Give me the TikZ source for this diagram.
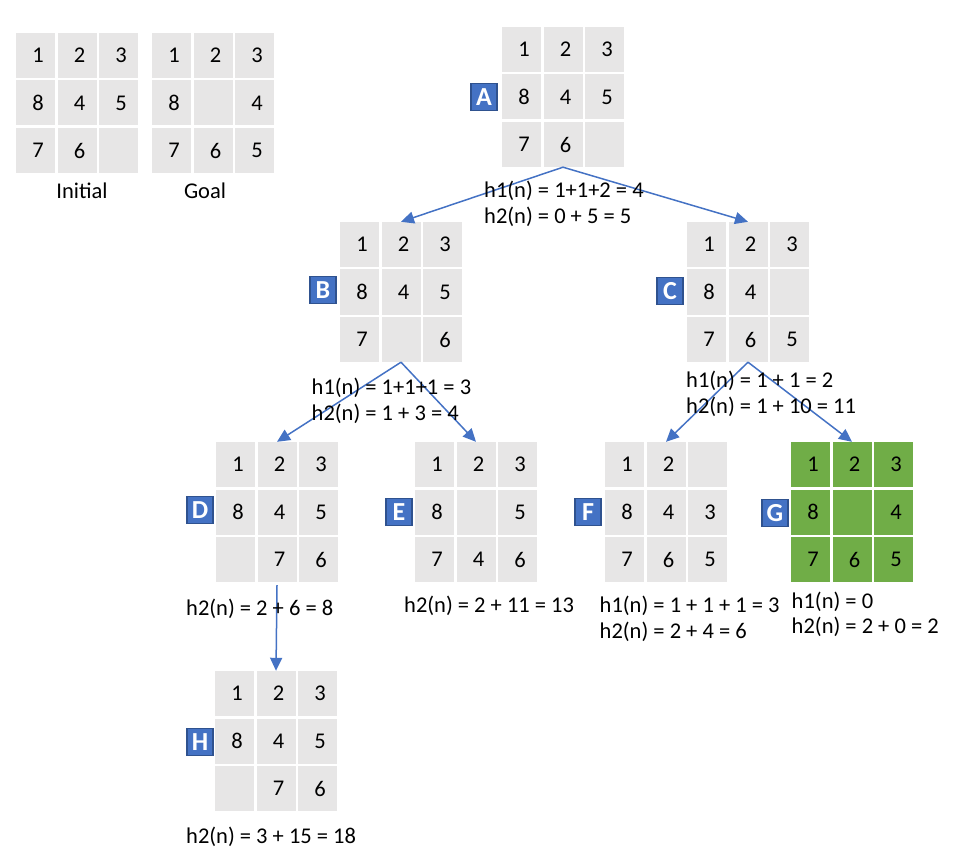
\documentclass[tikz,border=0pt]{standalone}
\usepackage{fontspec}
\setmainfont{Carlito}
\usetikzlibrary{arrows.meta}
\definecolor{cellgray}{HTML}{E7E6E6}
\definecolor{cellgreen}{HTML}{70AD47}
\definecolor{lblue}{HTML}{4472C4}
\definecolor{lbluedark}{HTML}{2F528F}
\tikzset{
  gridframe/.style={rectangle, minimum width=122pt, minimum height=140pt, inner sep=0pt},
  cell/.style={rectangle, minimum width=39pt, minimum height=45pt, inner sep=0pt, font=\fontsize{22.5}{26}\selectfont},
  tag/.style={rectangle, fill=lblue, draw=lbluedark, line width=1.3pt, text=white, minimum width=26pt, minimum height=27pt, inner sep=0pt, font=\fontsize{26}{26}\selectfont\bfseries},
  lbl/.style={anchor=base west, inner sep=0pt, font=\fontsize{22.5}{26}\selectfont},
  captionlbl/.style={anchor=base, inner sep=0pt, font=\fontsize{22.5}{26}\selectfont},
  conn/.style={draw=lblue, line width=1.5pt, -{Triangle[length=13pt,width=12pt]}, shorten >=0pt}
}
% name, left x, top y, fill colour, nine entries
\newcommand\puzzlegrid[5]{%
  \node[gridframe] (#1) at ({#2+61},{#3+70}) {};
  \foreach \v [count=\i from 0] in {#5} {
    \pgfmathtruncatemacro\cc{mod(\i,3)}
    \pgfmathtruncatemacro\rr{div(\i,3)}
    \node[cell, fill=#4] (#1-\i) at ({#2+19.5+41.5*\cc},{#3+22.5+47.5*\rr}) {\hspace*{5pt}\v};
  }
}
\begin{document}
\begin{tikzpicture}[x=1pt, y=-1pt]
\useasboundingbox (0,0) rectangle (960,858);

% reference puzzles
\puzzlegrid{Init}{16}{33}{cellgray}{1,2,3,8,4,5,7,6,{}}
\puzzlegrid{Goal}{152}{33}{cellgray}{1,2,3,8,{},4,7,6,5}
\node[captionlbl] (initlbl) at (82,199) {Initial};
\node[captionlbl] (goallbl) at (205,199) {Goal};

% search tree
\puzzlegrid{A}{502}{27}{cellgray}{1,2,3,8,4,5,7,6,{}}
\puzzlegrid{B}{340}{222}{cellgray}{1,2,3,8,4,5,7,{},6}
\puzzlegrid{C}{687}{222}{cellgray}{1,2,3,8,4,{},7,6,5}
\puzzlegrid{D}{216}{442}{cellgray}{1,2,3,8,4,5,{},7,6}
\puzzlegrid{E}{415}{442}{cellgray}{1,2,3,8,{},5,7,4,6}
\puzzlegrid{F}{605}{442}{cellgray}{1,2,{},8,4,3,7,6,5}
\puzzlegrid{G}{791}{442}{cellgreen}{1,2,3,8,{},4,7,6,5}
\puzzlegrid{H}{215}{671}{cellgray}{1,2,3,8,4,5,{},7,6}

% letter tags
\node[tag] (tA) at (484,97) {A};
\node[tag] (tB) at (323,290) {B};
\node[tag] (tC) at (670,291) {C};
\node[tag] (tD) at (200,510) {D};
\node[tag] (tE) at (399,512) {E};
\node[tag] (tF) at (588,512) {F};
\node[tag] (tG) at (775,513) {G};
\node[tag] (tH) at (200,742) {H};

% connectors
\draw[conn] (A.south) -- (B.north);
\draw[conn] (A.south) -- (C.north);
\draw[conn] (B.south) -- (D.north);
\draw[conn] (B.south) -- (E.north);
\draw[conn] (C.south) -- (F.north);
\draw[conn] (C.south) -- (G.north);
\draw[conn] ([yshift=-3pt]D.south) -- (H.north);

% heuristic labels
\node[lbl] (hA1) at (484,197.5) {h1(n) = 1+1+2 = 4};
\node[lbl] (hA2) at (484,223.5) {h2(n) = 0 + 5 = 5};
\node[lbl] (hB1) at (311.5,394) {h1(n) = 1+1+1 = 3};
\node[lbl] (hB2) at (311.5,420) {h2(n) = 1 + 3 = 4};
\node[lbl] (hC1) at (686,387) {h1(n) = 1 + 1 = 2};
\node[lbl] (hC2) at (686,413) {h2(n) = 1 + 10 = 11};
\node[lbl] (hD2) at (186,615) {h2(n) = 2 + 6 = 8};
\node[lbl] (hE2) at (404,612.5) {h2(n) = 2 + 11 = 13};
\node[lbl] (hF1) at (599.5,612.5) {h1(n) = 1 + 1 + 1 = 3};
\node[lbl] (hF2) at (599.5,638) {h2(n) = 2 + 4 = 6};
\node[lbl] (hG1) at (791.5,608) {h1(n) = 0};
\node[lbl] (hG2) at (791.5,633.5) {h2(n) = 2 + 0 = 2};
\node[lbl] (hH2) at (186,843) {h2(n) = 3 + 15 = 18};
\end{tikzpicture}
\end{document}
